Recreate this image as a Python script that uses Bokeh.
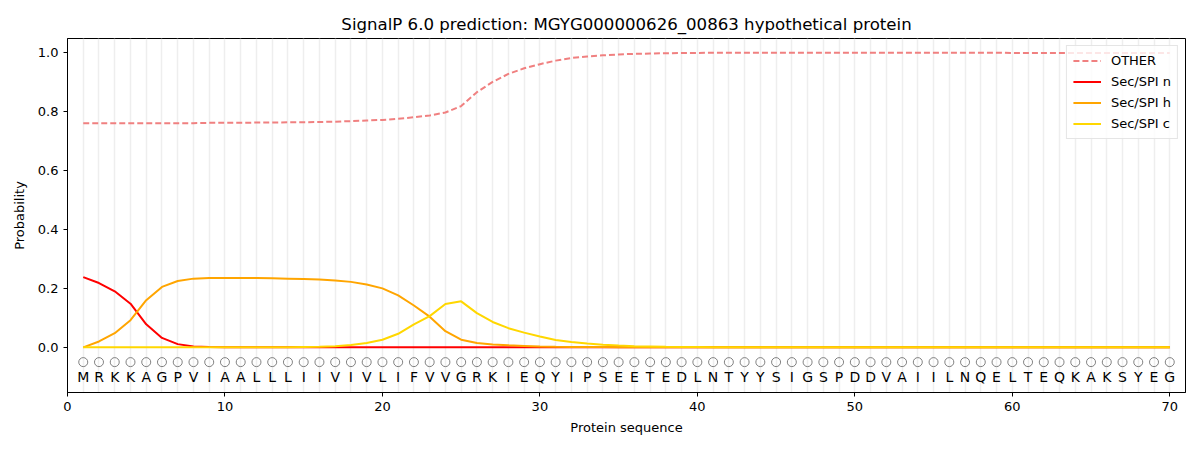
from bokeh.plotting import figure
from bokeh.models import FixedTicker, NumeralTickFormatter, Range1d, Legend, LegendItem, ColumnDataSource
from bokeh.core.properties import value
from bokeh.embed import file_html
from bokeh.resources import INLINE

sequence = list("MRKKAGPVIAALLLIIVIVLIFVVGRKIEQYIPSEETEDLNTYYSIGSPDDVAIILNQELTEQKAKSYEG")
positions = list(range(1, len(sequence) + 1))

other = [0.760, 0.760, 0.760, 0.760, 0.760, 0.760, 0.760, 0.760, 0.761, 0.761,
         0.761, 0.762, 0.762, 0.763, 0.763, 0.764, 0.765, 0.767, 0.769, 0.771,
         0.775, 0.780, 0.786, 0.796, 0.818, 0.865, 0.900, 0.927, 0.946, 0.960,
         0.972, 0.981, 0.986, 0.990, 0.993, 0.995, 0.996, 0.997, 0.998, 0.998,
         0.999, 0.999, 0.999, 0.999, 0.999, 0.999, 0.999, 0.999, 0.999, 0.999,
         0.999, 0.999, 0.999, 0.999, 0.999, 0.999, 0.999, 0.999, 0.999, 0.998,
         0.998, 0.998, 0.998, 0.998, 0.998, 0.998, 0.998, 0.998, 0.998, 0.998]
sec_n = [0.238, 0.218, 0.190, 0.148, 0.078, 0.032, 0.011, 0.003, 0.001, 0.0] + [0.0] * 60
sec_h = [0.000, 0.020, 0.048, 0.092, 0.160, 0.205, 0.225, 0.233, 0.235, 0.235,
         0.235, 0.235, 0.234, 0.233, 0.232, 0.230, 0.227, 0.222, 0.213, 0.200,
         0.176, 0.142, 0.104, 0.055, 0.026, 0.015, 0.010, 0.007, 0.005, 0.003,
         0.002, 0.0015, 0.001, 0.001, 0.0005] + [0.0] * 35
sec_c = [0.0] * 14 + [0.001, 0.002, 0.004, 0.008, 0.015, 0.026, 0.046, 0.078, 0.106, 0.147,
                      0.156, 0.116, 0.086, 0.065, 0.050, 0.037, 0.025, 0.018, 0.013, 0.009,
                      0.006, 0.004, 0.003, 0.002, 0.0015, 0.001] + [0.0] * 30

x_ticks = [0, 10, 20, 30, 40, 50, 60, 70]
y_ticks = [0.0, 0.2, 0.4, 0.6, 0.8, 1.0]

p = figure(width=1192, height=442, output_backend="svg", toolbar_location=None,
           x_range=Range1d(0, 71), y_range=Range1d(-0.153, 1.047),
           title="SignalP 6.0 prediction: MGYG000000626_00863 hypothetical protein",
           min_border_left=67, min_border_right=7, min_border_top=38, min_border_bottom=50)
p.title.align = "center"
p.title.text_font = "DejaVu Sans"
p.title.text_font_size = "16.6px"
p.title.text_font_style = "normal"
p.title.text_color = "black"
p.outline_line_color = "black"
p.outline_line_width = 1

p.xaxis.ticker = FixedTicker(ticks=x_ticks)
p.yaxis.ticker = FixedTicker(ticks=y_ticks)
p.yaxis.formatter = NumeralTickFormatter(format="0.0")
p.xaxis.axis_label = "Protein sequence"
p.yaxis.axis_label = "Probability"
for ax in (p.xaxis, p.yaxis):
    ax.axis_label_text_font = "DejaVu Sans"
    ax.axis_label_text_font_size = "13px"
    ax.axis_label_text_font_style = "normal"
    ax.axis_label_text_color = "black"
    ax.major_label_text_font = "DejaVu Sans"
    ax.major_label_text_font_size = "13px"
    ax.major_label_text_color = "black"
    ax.minor_tick_line_color = None
    ax.major_tick_in = 0
    ax.major_tick_out = 4
    ax.major_tick_line_color = "black"
    ax.axis_line_color = "black"
p.xaxis.axis_label_standoff = 6
p.yaxis.axis_label_standoff = 8

p.xgrid.ticker = FixedTicker(ticks=positions)
p.xgrid.grid_line_color = "#eeeeee"
p.xgrid.grid_line_width = 1.5
p.ygrid.grid_line_color = None

src = ColumnDataSource(dict(x=positions, other=other, n=sec_n, h=sec_h, c=sec_c,
                            seq=sequence, cy=[-0.05] * len(positions), ty=[-0.1] * len(positions)))

r_other = p.line("x", "other", source=src, line_color="#f08080", line_width=2, line_dash="6 3")
r_n = p.line("x", "n", source=src, line_color="red", line_width=2)
r_h = p.line("x", "h", source=src, line_color="orange", line_width=2)
r_c = p.line("x", "c", source=src, line_color="gold", line_width=2)

p.scatter("x", "cy", source=src, marker="circle", size=9, fill_color=None,
          line_color="gray", line_width=1)
p.text("x", "ty", text="seq", source=src, text_align="center", text_baseline="middle",
       text_font=value("DejaVu Sans"), text_font_size="14px", text_color="black")

legend = Legend(items=[LegendItem(label="OTHER", renderers=[r_other]),
                       LegendItem(label="Sec/SPI n", renderers=[r_n]),
                       LegendItem(label="Sec/SPI h", renderers=[r_h]),
                       LegendItem(label="Sec/SPI c", renderers=[r_c])],
                location="top_right")
legend.label_text_font = "DejaVu Sans"
legend.label_text_font_size = "13px"
legend.label_text_color = "black"
legend.border_line_color = "#cccccc"
legend.background_fill_alpha = 0.8
legend.glyph_width = 28
legend.label_standoff = 10
legend.spacing = 4
legend.padding = 6
legend.margin = 7
legend.label_height = 17
legend.glyph_height = 17
p.add_layout(legend)

open("out.html", "w").write(file_html(p, INLINE))
